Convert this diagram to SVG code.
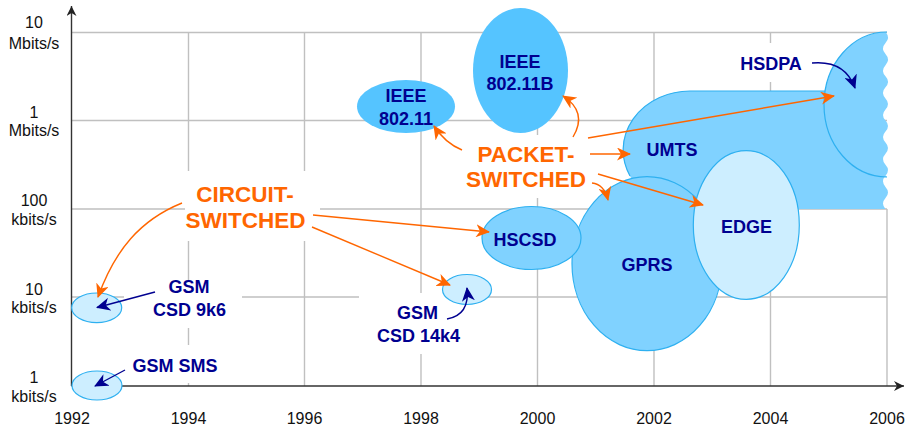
<svg xmlns="http://www.w3.org/2000/svg" width="905" height="430" viewBox="0 0 905 430">
  <defs>
    <style>
      .grid{stroke:#c0c0c0;stroke-width:1.4;fill:none}
      .axis{stroke:#333;stroke-width:1.4;fill:none}
      .tick{font-family:"Liberation Sans",Arial,sans-serif;font-size:16px;fill:#111;text-anchor:middle}
      .lbl{font-family:"Liberation Sans",Arial,sans-serif;font-size:18px;font-weight:bold;fill:#000090;text-anchor:middle}
      .big{font-family:"Liberation Sans",Arial,sans-serif;font-size:22.5px;font-weight:bold;fill:#ff6600;text-anchor:middle}
      .back{fill:#fff}
      .mid{fill:#80d2ff}
      .midline{fill:#80d2ff;stroke:#2eb0f0;stroke-width:1.2}
      .deep{fill:#55c4ff}
      .pale{fill:#cdeeff;stroke:#2eb0f0;stroke-width:1.2}
      .edge{fill:none;stroke:#2eb0f0;stroke-width:1.2}
      .orange{fill:none;stroke:#ff6600;stroke-width:1.4;marker-end:url(#ho)}
      .navy{fill:none;stroke:#000090;stroke-width:1.4;marker-end:url(#hn)}
    </style>
    <marker id="ho" viewBox="0 0 14 13" refX="13" refY="6.5" markerWidth="14" markerHeight="13" markerUnits="userSpaceOnUse" orient="auto">
      <path d="M0,0 L14,6.5 L0,13 L4,6.5 Z" fill="#ff6600"/>
    </marker>
    <marker id="hn" viewBox="0 0 14 13" refX="13" refY="6.5" markerWidth="14" markerHeight="13" markerUnits="userSpaceOnUse" orient="auto">
      <path d="M0,0 L14,6.5 L0,13 L4,6.5 Z" fill="#000090"/>
    </marker>
    <marker id="ha" viewBox="0 0 10 10" refX="10" refY="5" markerWidth="10" markerHeight="10" markerUnits="userSpaceOnUse" orient="auto">
      <path d="M0,0 L10,5 L0,10 L3,5 Z" fill="#222"/>
    </marker>
  </defs>

  <!-- grid -->
  <g id="grid" class="grid">
    <path d="M72,32.5 H887 M72,120.5 H887 M72,209 H887 M72,297 H887"/>
    <path d="M188.5,32 V386 M304.5,32 V386 M421,32 V386 M537.5,32 V386 M654,32 V386 M770.5,32 V386 M887,209 V386"/>
  </g>

  <!-- y axis labels -->
  <g id="y-labels" class="tick">
    <text x="34" y="28">10</text><text x="34" y="49">Mbits/s</text>
    <text x="34" y="118">1</text><text x="34" y="136">Mbits/s</text>
    <text x="34" y="206">100</text><text x="34" y="225">kbits/s</text>
    <text x="34" y="295">10</text><text x="34" y="313">kbits/s</text>
    <text x="34" y="383">1</text><text x="34" y="402">kbits/s</text>
  </g>
  <!-- x axis labels -->
  <g id="x-labels" class="tick">
    <text x="72" y="424">1992</text>
    <text x="188.5" y="424">1994</text>
    <text x="304.5" y="424">1996</text>
    <text x="421" y="424">1998</text>
    <text x="537.5" y="424">2000</text>
    <text x="654" y="424">2002</text>
    <text x="770.5" y="424">2004</text>
    <text x="887" y="424">2006</text>
  </g>

  <!-- label backings that interrupt the grid -->
  <g id="backings" class="back">
    <rect x="185" y="171" width="135" height="70"/>
    <rect x="460" y="135" width="132" height="63"/>
    <rect x="732" y="43" width="80" height="39"/>
    <rect x="124" y="280" width="118" height="48"/>
    <rect x="125" y="345" width="103" height="38"/>
    <rect x="359" y="293" width="111" height="61"/>
  </g>

  <!-- axes -->
  <g id="axes" class="axis">
    <path d="M71.5,386 V6" marker-end="url(#ha)"/>
    <path d="M71.5,386 H904" marker-end="url(#ha)"/>
  </g>

  <g id="umts">
    <path class="mid" d="M690,91 L880,91 L880,175.8 L885.5,175.8 Q880.5,181.3 885.5,186.9 Q890.5,192.4 885.5,197.9 Q880.5,203.5 885.5,209 L690,209 A67,59 0 0 1 690,91 Z"/>
    <path class="edge" d="M880,91 H690 A67,59 0 0 0 630,176"/>
    <text class="lbl" x="672" y="156">UMTS</text>
  </g>

  <g id="hsdpa">
    <path class="mid" d="M885.5,32 Q890.5,37.5 885.5,43.1 Q880.5,48.6 885.5,54.1 Q890.5,59.7 885.5,65.2 Q880.5,70.7 885.5,76.3 Q890.5,81.8 885.5,87.3 Q880.5,92.8 885.5,98.4 Q890.5,103.9 885.5,109.4 Q880.5,115 885.5,120.5 Q890.5,126 885.5,131.6 Q880.5,137.1 885.5,142.6 Q890.5,148.2 885.5,153.7 Q880.5,159.2 885.5,164.8 Q890.5,170.3 885.5,175.8 L887,177 A63,72.5 0 0 1 887,32 Z"/>
    <path class="edge" d="M887,32 A63,72.5 0 0 0 887,177"/>
    <text class="lbl" x="771" y="70">HSDPA</text>
  </g>

  <g id="gprs">
    <ellipse class="midline" cx="647" cy="263.7" rx="75" ry="87"/>
    <text class="lbl" x="647" y="271">GPRS</text>
  </g>

  <g id="hscsd">
    <ellipse class="midline" cx="531.5" cy="238" rx="49.5" ry="31.5"/>
    <text class="lbl" x="525" y="246">HSCSD</text>
  </g>

  <g id="edge">
    <ellipse class="pale" cx="746.3" cy="225" rx="53" ry="74.3"/>
    <text class="lbl" x="746.5" y="233">EDGE</text>
  </g>

  <g id="ieee-80211">
    <ellipse class="deep" cx="406" cy="106.5" rx="49" ry="26.5"/>
    <text class="lbl" x="406" y="101.5">IEEE</text>
    <text class="lbl" x="406" y="125">802.11</text>
  </g>

  <g id="ieee-80211b">
    <ellipse class="deep" cx="520.5" cy="70.5" rx="47.5" ry="62.5"/>
    <text class="lbl" x="520" y="68">IEEE</text>
    <text class="lbl" x="520" y="90">802.11B</text>
  </g>

  <g id="gsm-csd-9k6">
    <ellipse class="pale" cx="96.7" cy="307.8" rx="25" ry="14.8"/>
    <text class="lbl" x="189" y="293">GSM</text>
    <text class="lbl" x="189.5" y="316">CSD 9k6</text>
  </g>

  <g id="gsm-sms">
    <ellipse class="pale" cx="97" cy="385.5" rx="25" ry="14.5"/>
    <text class="lbl" x="175" y="371.5">GSM SMS</text>
  </g>

  <g id="gsm-csd-14k4">
    <ellipse class="pale" cx="467" cy="289.5" rx="24.5" ry="15"/>
    <text class="lbl" x="417.5" y="319">GSM</text>
    <text class="lbl" x="418.5" y="341.5">CSD 14k4</text>
  </g>

  <g id="circuit-switched">
    <text class="big" x="245" y="201.5">CIRCUIT-</text>
    <text class="big" x="245.5" y="228.3">SWITCHED</text>
  </g>

  <g id="packet-switched">
    <text class="big" x="526" y="162">PACKET-</text>
    <text class="big" x="526" y="187">SWITCHED</text>
  </g>

  <!-- connectors -->
  <g id="connectors">
    <path class="orange" d="M182,203 C140,220 115,250 98,297"/>
    <path class="orange" d="M313,215 L489,232"/>
    <path class="orange" d="M312,227 L450,285"/>
    <path class="orange" d="M462,150 Q445,143 434,126"/>
    <path class="orange" d="M573,137 Q588,112 563,96"/>
    <path class="orange" d="M588,138 L834,96"/>
    <path class="orange" d="M590,154 L630,154"/>
    <path class="orange" d="M598,174 L703,205"/>
    <path class="orange" d="M592,183 Q604,184 608,200"/>
    <path class="navy" d="M155,292 L97,307.5"/>
    <path class="navy" d="M125,370 L95,386"/>
    <path class="navy" d="M447,319 Q470,315 467,288"/>
    <path class="navy" d="M812,63 Q845,60 855,88"/>
  </g>
</svg>
